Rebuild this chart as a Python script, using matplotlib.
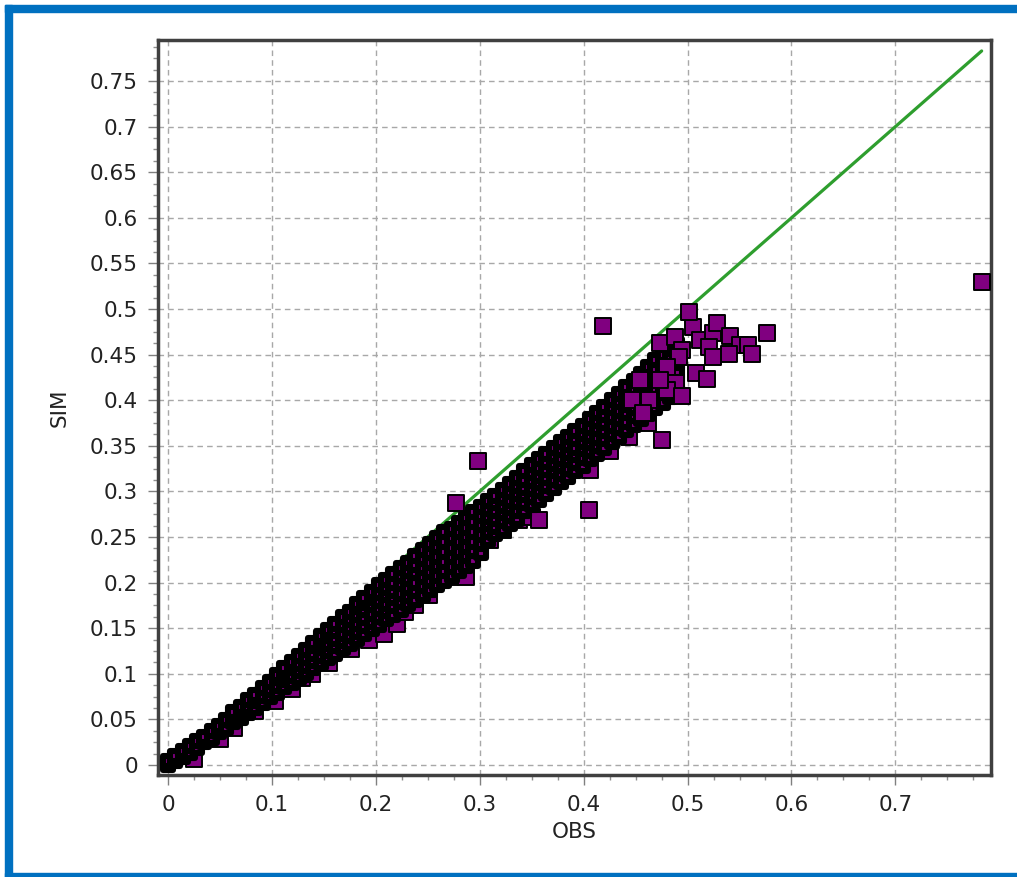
import numpy as np
import matplotlib
matplotlib.use("Agg")
import matplotlib.pyplot as plt
from matplotlib.patches import Rectangle
from matplotlib.ticker import MultipleLocator, FuncFormatter

# --- data (OBS vs SIM) ---
# dense band, one column of SIM values per OBS value
low_obs = [0.000, 0.007, 0.014, 0.021, 0.028, 0.035, 0.042, 0.049, 0.056, 0.063,
           0.070, 0.077, 0.084, 0.091, 0.098]
low_sim = [
    [0.000, 0.004],
    [0.004, 0.010],
    [0.009, 0.015],
    [0.013, 0.021],
    [0.019, 0.026],
    [0.025, 0.031],
    [0.030, 0.037],
    [0.036, 0.043],
    [0.041, 0.049],
    [0.047, 0.053, 0.058],
    [0.052, 0.058, 0.064],
    [0.057, 0.064, 0.071],
    [0.063, 0.070, 0.077],
    [0.068, 0.076, 0.084],
    [0.074, 0.082, 0.091],
]

mid_obs = [0.105, 0.112, 0.119, 0.126, 0.133, 0.140, 0.147, 0.154, 0.161, 0.168,
           0.175, 0.182, 0.189, 0.196, 0.203]
mid_sim = [
    [0.079, 0.087, 0.095, 0.099],
    [0.085, 0.093, 0.100, 0.106],
    [0.090, 0.098, 0.106, 0.113],
    [0.095, 0.103, 0.111, 0.119],
    [0.101, 0.109, 0.117, 0.126],
    [0.106, 0.114, 0.122, 0.130, 0.134],
    [0.112, 0.120, 0.128, 0.135, 0.141],
    [0.117, 0.125, 0.133, 0.141, 0.148],
    [0.122, 0.130, 0.138, 0.147, 0.155],
    [0.128, 0.136, 0.144, 0.153, 0.162],
    [0.133, 0.141, 0.150, 0.159, 0.168],
    [0.138, 0.146, 0.155, 0.164, 0.173, 0.176],
    [0.144, 0.152, 0.161, 0.170, 0.178, 0.183],
    [0.149, 0.157, 0.166, 0.175, 0.183, 0.190],
    [0.154, 0.162, 0.171, 0.180, 0.189, 0.197],
]

high_obs = [0.210, 0.217, 0.224, 0.231, 0.238, 0.245, 0.252, 0.259, 0.266, 0.273,
            0.280, 0.287, 0.294, 0.301]
high_sim = [
    [0.160, 0.169, 0.177, 0.186, 0.194, 0.203],
    [0.165, 0.174, 0.183, 0.191, 0.200, 0.209],
    [0.170, 0.179, 0.188, 0.198, 0.207, 0.216],
    [0.176, 0.185, 0.194, 0.204, 0.213, 0.222],
    [0.181, 0.191, 0.200, 0.210, 0.219, 0.229],
    [0.186, 0.196, 0.206, 0.216, 0.226, 0.236],
    [0.192, 0.202, 0.212, 0.222, 0.232, 0.242],
    [0.197, 0.207, 0.218, 0.228, 0.239, 0.249],
    [0.202, 0.213, 0.223, 0.234, 0.244, 0.255],
    [0.207, 0.217, 0.228, 0.238, 0.249, 0.259],
    [0.213, 0.223, 0.234, 0.244, 0.255, 0.265],
    [0.218, 0.229, 0.239, 0.250, 0.260, 0.271],
    [0.224, 0.235, 0.245, 0.256, 0.266, 0.277],
    [0.232, 0.242, 0.252, 0.263, 0.273, 0.283],
]

top_obs = [0.308, 0.315, 0.322, 0.329, 0.336, 0.343, 0.350, 0.357, 0.364, 0.371,
           0.378, 0.385, 0.392, 0.399, 0.406, 0.413, 0.420, 0.427, 0.434, 0.441,
           0.448, 0.455, 0.462, 0.469, 0.476, 0.483, 0.490]
top_sim = [
    [0.247, 0.255, 0.264, 0.272, 0.281, 0.289],
    [0.253, 0.261, 0.270, 0.278, 0.287, 0.295],
    [0.258, 0.267, 0.276, 0.284, 0.293, 0.302],
    [0.264, 0.273, 0.282, 0.290, 0.299, 0.308],
    [0.270, 0.279, 0.288, 0.297, 0.306, 0.315],
    [0.278, 0.287, 0.296, 0.304, 0.313, 0.322],
    [0.285, 0.294, 0.303, 0.311, 0.320, 0.329],
    [0.291, 0.300, 0.309, 0.317, 0.326, 0.335],
    [0.297, 0.306, 0.315, 0.323, 0.332, 0.341],
    [0.304, 0.313, 0.322, 0.330, 0.339, 0.348],
    [0.310, 0.319, 0.328, 0.336, 0.345, 0.354],
    [0.316, 0.325, 0.334, 0.342, 0.351, 0.360],
    [0.322, 0.331, 0.340, 0.348, 0.357, 0.366],
    [0.328, 0.337, 0.346, 0.354, 0.363, 0.372],
    [0.335, 0.344, 0.353, 0.361, 0.370, 0.379],
    [0.341, 0.350, 0.359, 0.368, 0.377, 0.386],
    [0.348, 0.357, 0.366, 0.375, 0.384, 0.393],
    [0.354, 0.363, 0.372, 0.382, 0.391, 0.400],
    [0.360, 0.369, 0.379, 0.388, 0.398, 0.407],
    [0.367, 0.376, 0.386, 0.395, 0.405, 0.414],
    [0.373, 0.383, 0.392, 0.402, 0.411, 0.421],
    [0.379, 0.389, 0.399, 0.409, 0.419, 0.429],
    [0.385, 0.395, 0.405, 0.416, 0.426, 0.436],
    [0.391, 0.402, 0.412, 0.423, 0.433, 0.444],
    [0.397, 0.408, 0.418, 0.429, 0.439, 0.450],
    [0.403, 0.414, 0.424, 0.435, 0.445, 0.456],
    [0.410, 0.420, 0.431, 0.441, 0.452, 0.462],
]

# squares along the lower edge of the band
fringe_obs = [0.025, 0.050, 0.064, 0.084, 0.103, 0.119, 0.129, 0.139, 0.155, 0.155,
              0.176, 0.193, 0.208, 0.220, 0.228, 0.238, 0.251, 0.259, 0.271, 0.275,
              0.274, 0.287, 0.293, 0.296, 0.310, 0.322, 0.338, 0.350, 0.357, 0.406,
              0.425, 0.430, 0.444, 0.435, 0.422, 0.462, 0.475]
fringe_sim = [0.006, 0.029, 0.041, 0.059, 0.070, 0.083, 0.095, 0.100, 0.112, 0.122,
              0.127, 0.137, 0.144, 0.155, 0.168, 0.175, 0.186, 0.203, 0.206, 0.220,
              0.217, 0.206, 0.232, 0.234, 0.247, 0.258, 0.269, 0.272, 0.269, 0.323,
              0.344, 0.367, 0.360, 0.382, 0.389, 0.375, 0.356]

# loose squares at the top end of the band
cluster_obs = [0.473, 0.488, 0.495, 0.505, 0.501, 0.512, 0.524, 0.528, 0.541, 0.550,
               0.558, 0.576, 0.540, 0.562, 0.521, 0.524, 0.492, 0.480, 0.508, 0.489,
               0.480, 0.519, 0.495, 0.454, 0.447, 0.463, 0.473, 0.457]
cluster_sim = [0.463, 0.469, 0.455, 0.480, 0.497, 0.466, 0.474, 0.485, 0.470, 0.461,
               0.461, 0.474, 0.451, 0.451, 0.458, 0.447, 0.447, 0.436, 0.430, 0.419,
               0.411, 0.423, 0.405, 0.422, 0.400, 0.400, 0.422, 0.386]

# isolated points
outlier_obs = [0.277, 0.298, 0.419, 0.405, 0.783]
outlier_sim = [0.287, 0.333, 0.481, 0.280, 0.530]


def expand(cols, sims):
    xs, ys = [], []
    for c, col in zip(cols, sims):
        for s in col:
            xs.append(c)
            ys.append(s)
    return xs, ys


band_obs, band_sim = [], []
for cols, sims in [(low_obs, low_sim), (mid_obs, mid_sim),
                   (high_obs, high_sim), (top_obs, top_sim)]:
    xs, ys = expand(cols, sims)
    band_obs += xs
    band_sim += ys

all_obs = np.array(fringe_obs + band_obs + cluster_obs + outlier_obs)

# --- figure ---
W, H = 1017, 877
fig = plt.figure(figsize=(W / 100, H / 100), dpi=100)
fig.patch.set_facecolor("white")

blue = "#0070c0"
fig.patches.append(Rectangle((5 / W, 0), 7 / W, 1 - 5 / H, transform=fig.transFigure,
                             color=blue, zorder=0))
fig.patches.append(Rectangle((5 / W, 1 - 12 / H), 1, 7 / H, transform=fig.transFigure,
                             color=blue, zorder=0))
fig.patches.append(Rectangle((5 / W, 0), 1, 4 / H, transform=fig.transFigure,
                             color=blue, zorder=0))

ax = fig.add_axes([158 / W, 102 / H, 833 / W, 735 / H])

# 1:1 line over the range of the observations
lo, hi = 0.0, all_obs.max()
ax.plot([lo, hi], [lo, hi], color="#2e9e2e", lw=2.3, zorder=2, solid_capstyle="round")

purple = "#800080"
# single squares
ax.scatter(fringe_obs, fringe_sim, marker="s", s=118, c=purple, edgecolors="black",
           linewidths=1.4, zorder=3)
# the dense band: thousands of overlapping outlines render almost black
ax.scatter(band_obs, band_sim, marker="s", s=62, c=purple, edgecolors="black",
           linewidths=4.4, zorder=3)
ax.scatter(cluster_obs + outlier_obs, cluster_sim + outlier_sim, marker="s", s=118,
           c=purple, edgecolors="black", linewidths=1.4, zorder=3)

ax.set_xlim(-0.0096, 0.792)
ax.set_ylim(-0.011, 0.795)

ax.xaxis.set_major_locator(MultipleLocator(0.1))
ax.xaxis.set_minor_locator(MultipleLocator(0.025))
ax.yaxis.set_major_locator(MultipleLocator(0.05))
ax.yaxis.set_minor_locator(MultipleLocator(0.0125))
fmt = FuncFormatter(lambda v, p: ("%.2f" % v).rstrip("0").rstrip(".") if abs(v) > 1e-9 else "0")
ax.xaxis.set_major_formatter(fmt)
ax.yaxis.set_major_formatter(fmt)

ax.grid(True, which="major", color="#a8a8a8", linestyle=(0, (4, 3)), lw=1.0, zorder=0)
ax.set_axisbelow(True)

for sp in ax.spines.values():
    sp.set_color("#404040")
    sp.set_linewidth(2.5)

ax.tick_params(which="major", direction="out", length=7.5, width=1, color="#808080",
               labelsize=15.5, labelcolor="#222222", pad=7)
ax.tick_params(which="minor", direction="out", length=3.5, width=1, color="#909090")

ax.set_xlabel("OBS", fontsize=15.5, color="#222222")
ax.set_ylabel("SIM", fontsize=15.5, color="#222222")
ax.xaxis.set_label_coords(0.5, -57 / 735)
ax.yaxis.set_label_coords(-98 / 833, 0.5)
ax.xaxis.label.set_va("center")
ax.yaxis.label.set_va("center")

fig.savefig("out.png", dpi=100)
